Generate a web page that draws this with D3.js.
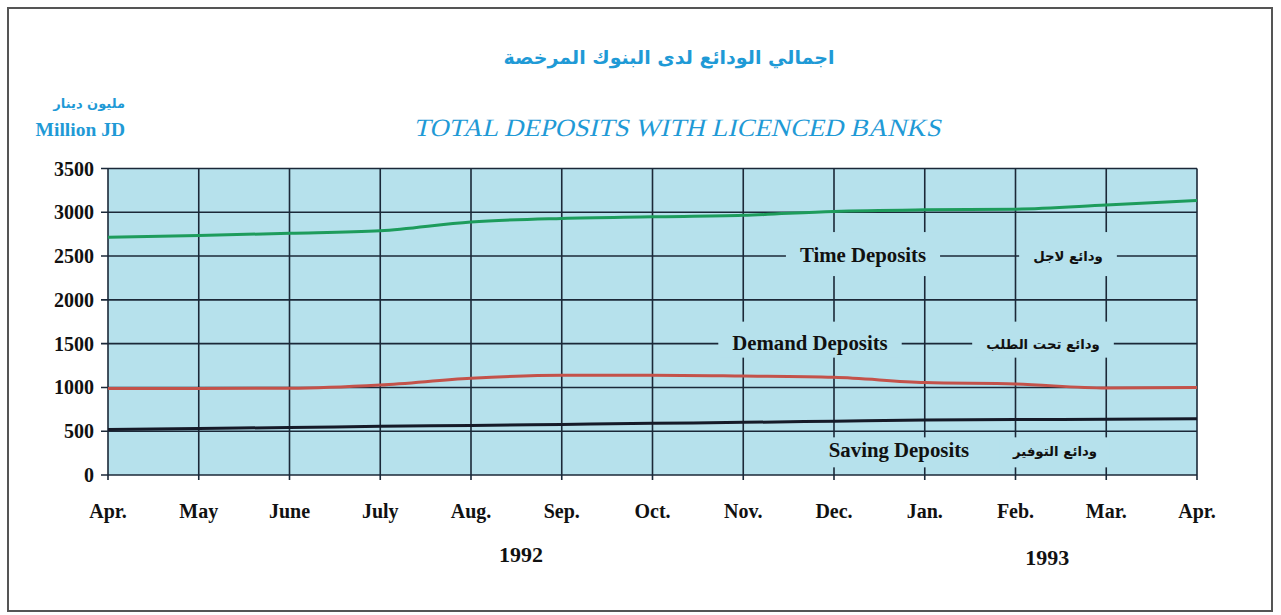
<!DOCTYPE html>
<html><head><meta charset="utf-8">
<script src="https://cdn.jsdelivr.net/npm/d3@7"></script>
<style>
html,body{margin:0;padding:0;background:#fff;}
svg{display:block;}
.serif{font-family:'Liberation Serif','Times New Roman','DejaVu Serif',serif;}
.ar{font-family:'DejaVu Sans',sans-serif;}
</style></head>
<body>
<svg id="chart" width="1281" height="615"></svg>
<script>
// ---- data ----
const months = ["Apr.","May","June","July","Aug.","Sep.","Oct.","Nov.","Dec.","Jan.","Feb.","Mar.","Apr."];
const years = [{label:"1992", at:4.55}, {label:"1993", at:10.35}];
const yTicks = [0,500,1000,1500,2000,2500,3000,3500];
const timeDeposits   = [2715,2735,2760,2790,2890,2930,2948,2965,3010,3028,3035,3082,3135];
const demandDeposits = [988,988,990,1027,1104,1140,1140,1130,1115,1055,1040,993,1000];
const savingDeposits = [520,532,542,556,566,578,590,601,614,627,634,636,642];
const seriesNames = ["Time Deposits","Demand Deposits","Saving Deposits"];
const seriesArabic = ["ودائع لاجل","ودائع تحت الطلب","ودائع التوفير"];
const titleAr = "اجمالي الودائع لدى البنوك المرخصة";
const titleEn = "TOTAL DEPOSITS WITH LICENCED BANKS";
const unitAr = "مليون دينار";
const unitEn = "Million JD";

// ---- layout ----
const svg = d3.select("#chart");
const L = 108, R = 1197, T = 168.5, B = 475;
const x = d3.scaleLinear().domain([0, months.length-1]).range([L, R]);
const y = d3.scaleLinear().domain([0, 3500]).range([B, T]);
const blue = "#1f9ad6";
const plotBg = "#b6e1ec";
const gridC = "#1b2838";

// outer frame
svg.append("rect").attr("x",8).attr("y",8).attr("width",1264).attr("height",603)
  .attr("fill","none").attr("stroke","#555").attr("stroke-width",2);

// titles
svg.append("text").attr("class","ar").attr("x",669).attr("y",64).attr("text-anchor","middle")
  .attr("font-weight","bold").attr("font-size",19)
  .attr("fill",blue).attr("direction","rtl").text(titleAr);
svg.append("g").attr("transform","translate(677,136) skewX(-13)")
  .append("text").attr("class","serif").attr("x",0).attr("y",0).attr("text-anchor","middle")
  .attr("font-size",25).attr("textLength",527).attr("lengthAdjust","spacingAndGlyphs")
  .attr("fill",blue).text(titleEn);
svg.append("text").attr("class","ar").attr("x",125).attr("y",108).attr("text-anchor","end")
  .attr("font-weight","bold").attr("font-size",13)
  .attr("fill",blue).text(unitAr);
svg.append("text").attr("class","serif").attr("x",125).attr("y",136).attr("text-anchor","end")
  .attr("font-weight","bold").attr("font-size",19.5)
  .attr("fill",blue).text(unitEn);

// plot background
svg.append("rect").attr("x",L).attr("y",T).attr("width",R-L).attr("height",B-T).attr("fill",plotBg);

// vertical grid
svg.append("g").selectAll("line").data(d3.range(months.length)).join("line")
  .attr("x1",d=>x(d)).attr("x2",d=>x(d)).attr("y1",T).attr("y2",B+5)
  .attr("stroke",gridC).attr("stroke-width",1.6);

// series labels (boxes mask the vertical grid and leader line gaps)
const labelPos = [
  {val:2500, ex:863, ax:1068, top:24, bot:20},
  {val:1500, ex:810, ax:1043, top:22, bot:14},
  {val:270,  ex:899, ax:1055, top:14, bot:16}
];
const lg = svg.append("g");
const hgLayer = svg.append("g");
labelPos.forEach((p,i)=>{
  const yy = y(p.val);
  const et = lg.append("text").attr("class","serif").attr("x",p.ex).attr("y",yy+6).attr("text-anchor","middle")
    .attr("font-weight","bold").attr("font-size",20.8)
    .attr("fill","#111").text(seriesNames[i]);
  const at = lg.append("text").attr("class","ar").attr("x",p.ax).attr("y",yy+5).attr("text-anchor","middle")
    .attr("font-weight","bold").attr("font-size",13.3)
    .attr("fill","#111").text(seriesArabic[i]);
  [et,at].forEach(t=>{
    const b = t.node().getBBox();
    lg.insert("rect", "text").attr("x",b.x-12).attr("y",yy-p.top).attr("width",b.width+24).attr("height",p.top+p.bot)
      .attr("fill",plotBg);
  });
});

// horizontal grid (cut where label texts sit on the gridline)
yTicks.forEach(v=>{
  const yy = y(v);
  const gaps = [];
  lg.selectAll("text").each(function(){
    const b = this.getBBox();
    if (Math.abs(b.y + b.height/2 - yy) < 12) gaps.push([b.x-14, b.x+b.width+14]);
  });
  gaps.sort((a,b)=>a[0]-b[0]);
  let start = L-7;
  const segs = [];
  gaps.forEach(gp=>{ segs.push([start, gp[0]]); start = gp[1]; });
  segs.push([start, R]);
  hgLayer.selectAll(null).data(segs).join("line")
    .attr("x1",d=>d[0]).attr("x2",d=>d[1]).attr("y1",yy).attr("y2",yy)
    .attr("stroke",gridC).attr("stroke-width",1.6);
});

// axis labels
svg.selectAll(".yl").data(yTicks).join("text").attr("class","serif")
  .attr("x",94).attr("y",d=>y(d)+7).attr("text-anchor","end")
  .attr("font-weight","bold").attr("font-size",20)
  .attr("fill","#111").text(d=>d);
svg.selectAll(".xl").data(months).join("text").attr("class","serif")
  .attr("x",(d,i)=>x(i)).attr("y",518).attr("text-anchor","middle")
  .attr("font-weight","bold").attr("font-size",20)
  .attr("fill","#111").text(d=>d);
svg.selectAll(".yr").data(years).join("text").attr("class","serif")
  .attr("x",d=>x(d.at)).attr("y",(d,i)=>i?565:562).attr("text-anchor","middle")
  .attr("font-weight","bold").attr("font-size",22)
  .attr("fill","#111").text(d=>d.label);

// lines
const line = d3.line().x((d,i)=>x(i)).y(d=>y(d)).curve(d3.curveMonotoneX);
const series = [
  {v:timeDeposits, c:"#1d9c5c"},
  {v:demandDeposits, c:"#c4524a"},
  {v:savingDeposits, c:"#151a28"}
];
svg.selectAll(".ln").data(series).join("path")
  .attr("d",d=>line(d.v)).attr("fill","none").attr("stroke",d=>d.c)
  .attr("stroke-width",3);
</script>
</body></html>
